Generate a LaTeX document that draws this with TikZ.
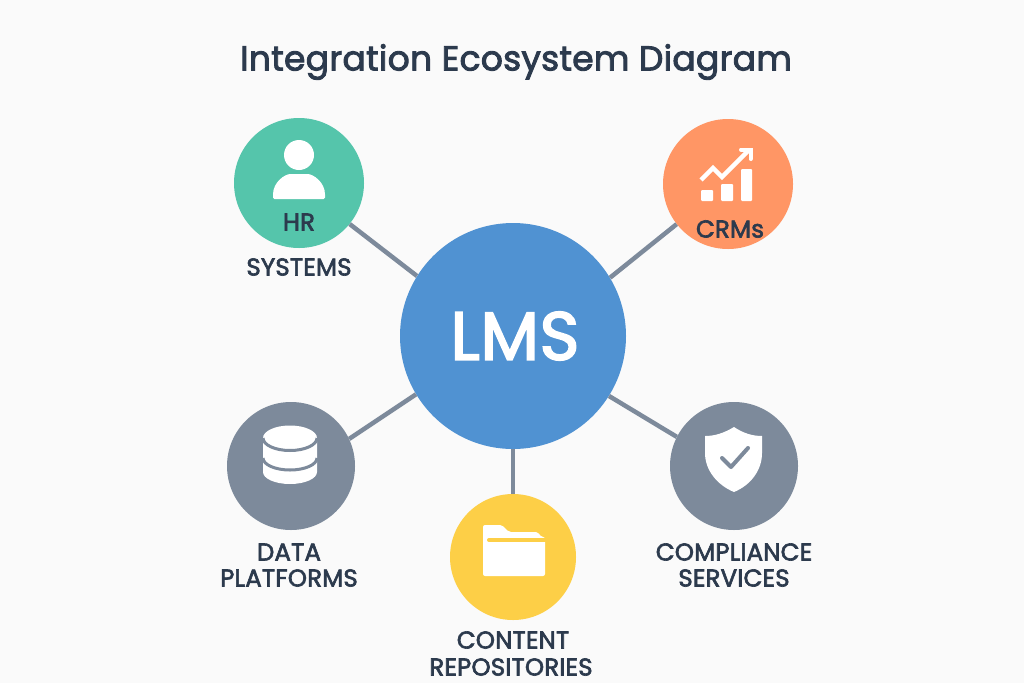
\documentclass[tikz,border=0pt]{standalone}
\usepackage{fontspec}
\setmainfont{Poppins}[FakeBold=2.6,LetterSpace=0.8]
\definecolor{bgc}{HTML}{FAFAFA}
\definecolor{ink}{HTML}{2C3A4D}
\definecolor{lmsc}{HTML}{5092D2}
\definecolor{hrc}{HTML}{55C5AB}
\definecolor{crmc}{HTML}{FF9665}
\definecolor{slatec}{HTML}{7D8A9B}
\definecolor{yelc}{HTML}{FDCF47}
\tikzset{
  hub/.style={circle,inner sep=0pt,minimum size=#1},
  lab/.style={text=ink,inner sep=0pt,font=\fontsize{24.4}{26}\selectfont},
  link/.style={draw=slatec,line width=4.5pt},
}
\begin{document}
\begin{tikzpicture}[x=1pt,y=-1pt]
\fill[bgc] (0,0) rectangle (1024,683);
\useasboundingbox (0,0) rectangle (1024,683);
\node[hub=226pt,fill=lmsc] (lms) at (513,336) {};
\node[hub=130pt,fill=hrc] (hr) at (299,183) {};
\node[hub=130pt,fill=crmc] (crm) at (728,184) {};
\node[hub=128pt,fill=slatec] (data) at (291,466) {};
\node[hub=126pt,fill=yelc] (content) at (513,557) {};
\node[hub=128pt,fill=slatec] (comp) at (734,466) {};
\draw[link] (lms.148.7) -- (hr.-39.4);
\draw[link] (lms.31.3) -- (crm.218.5);
\draw[link] (lms.211.7) -- (data.25.8);
\draw[link] (lms.328.3) -- (comp.153.8);
\draw[link] (lms.south) -- (content.north);
\node[text=ink,inner sep=0pt,font=\fontsize{34.5}{40}\selectfont] (title) at (516,62) {Integration Ecosystem Diagram};
\node[text=white,inner sep=0pt,font=\fontsize{68}{72}\selectfont] (lmst) at (515,336) {LMS};
\node[lab] (t1) at (299,222) {HR};
\node[lab] (t2) at (299,267) {SYSTEMS};
\node[lab] (t3) at (730,229) {CRMs};
\node[lab] (t4) at (289,552) {DATA};
\node[lab] (t5) at (289,578) {PLATFORMS};
\node[lab] (t6) at (513,640) {CONTENT};
\node[lab] (t7) at (511,667) {REPOSITORIES};
\node[lab] (t8) at (734,552) {COMPLIANCE};
\node[lab] (t9) at (734,578) {SERVICES};
% person
\fill[white] (299,155) circle (15);
\fill[white,rounded corners=1.5pt] (273,199) -- (273,196) .. controls (273,182) and (285,174) .. (292,174) -- (306,174) .. controls (313,174) and (325,182) .. (325,196) -- (325,199) -- cycle;
% chart
\fill[white,rounded corners=1pt] (701,190) rectangle (713,201);
\fill[white,rounded corners=1pt] (721,184) rectangle (733,201);
\fill[white,rounded corners=1pt] (741,169) rectangle (752,201);
\draw[white,line width=4.5pt,line join=miter] (701,180) -- (713,168) -- (722,177) -- (749,150);
\draw[white,line width=4pt,line cap=round,line join=miter] (741,149.5) -- (750.5,149.5) -- (750.5,159);
% database
\fill[white] (263,438) arc[x radius=27,y radius=12.5,start angle=180,end angle=360] -- (317,472) arc[x radius=27,y radius=12,start angle=0,end angle=180] -- cycle;
\draw[slatec,line width=3pt] (263,438) arc[x radius=27,y radius=12.5,start angle=180,end angle=0];
\draw[slatec,line width=3pt] (263,458) arc[x radius=27,y radius=12,start angle=180,end angle=0];
% folder
\fill[white,rounded corners=2pt] (483,576) -- (483,525) -- (502,525) -- (509,532) -- (538,532) -- (541,537) -- (545,537) -- (545,576) -- cycle;
\draw[yelc,line width=4pt,line cap=round] (489,540) -- (548,540);
% shield
\fill[white] (734,427) .. controls (724,433) and (715,436) .. (705,436) -- (705,453) .. controls (705,470) and (717,485) .. (734,492) .. controls (751,485) and (762,470) .. (762,453) -- (762,436) .. controls (752,436) and (743,433) .. (734,427) -- cycle;
\draw[slatec,line width=4pt,line cap=round,line join=round] (722,458) -- (731,467) -- (748,448);
\end{tikzpicture}
\end{document}
